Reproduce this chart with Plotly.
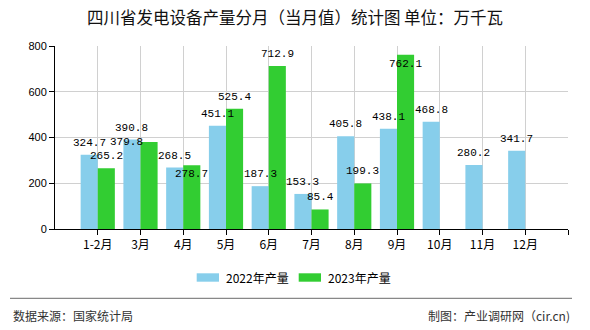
import plotly.graph_objects as go

# Monthly output of power generation equipment in Sichuan (10,000 kW)
months = ["1-2月", "3月", "4月", "5月", "6月", "7月", "8月", "9月", "10月", "11月", "12月"]
output_2022 = [324.7, 390.8, 268.5, 451.1, 187.3, 153.3, 405.8, 438.1, 468.8, 280.2, 341.7]
output_2023 = [265.2, 379.8, 278.7, 525.4, 712.9, 85.4, 199.3, 762.1, None, None, None]
series_names = ["2022年产量", "2023年产量"]
y_ticks = [0, 200, 400, 600, 800]

BLUE = "#87CEEB"
GREEN = "#32CD32"
CJK = "Noto Sans CJK SC"
MONO = "Liberation Mono"

# plot area in pixels (used to place paper-referenced decorations)
W, H = 590, 330
L, R, T, B = 55, 22, 46, 101
PW, PH = W - L - R, H - T - B


def px(x):
    return (x - L) / PW


def py(y):
    return (H - B - y) / PH


xs = list(range(len(months)))

fig = go.Figure()
fig.add_trace(go.Bar(x=xs, y=output_2022, name=series_names[0],
                     marker=dict(color=BLUE, line=dict(width=0))))
fig.add_trace(go.Bar(x=xs, y=output_2023, name=series_names[1],
                     marker=dict(color=GREEN, line=dict(width=0))))

# value labels above each bar; a few are nudged to avoid collisions
label_nudge = {(1, 1): (-23, 0), (1, 2): (0, -9), (1, 7): (0, -9)}
annotations = []
for s, (vals, dx) in enumerate([(output_2022, -0.2), (output_2023, 0.2)]):
    for i, v in enumerate(vals):
        if v is None:
            continue
        xshift, yshift = label_nudge.get((s, i), (0, 12))
        annotations.append(dict(
            x=i + dx, y=v, xref="x", yref="y", text=f"{v:.1f}",
            showarrow=False, xanchor="center", yanchor="middle",
            xshift=xshift, yshift=yshift,
            font=dict(family=MONO, size=11, color="#000000")))

# custom legend
shapes = []
legend_items = [(196.7, BLUE, series_names[0]), (298.7, GREEN, series_names[1])]
for x0, col, name in legend_items:
    shapes.append(dict(type="rect", xref="paper", yref="paper",
                       x0=px(x0), x1=px(x0 + 22.3), y0=py(281.7), y1=py(273.3),
                       fillcolor=col, line=dict(width=0)))
    annotations.append(dict(x=px(x0 + 27), y=py(277.5), xref="paper", yref="paper",
                            text=name, showarrow=False, xanchor="left", yanchor="middle",
                            font=dict(family=CJK, size=12, color="#000000")))

# footer separator and source notes
shapes.append(dict(type="line", xref="paper", yref="paper",
                   x0=px(10), x1=px(572), y0=py(298.3), y1=py(298.3),
                   line=dict(color="#888888", width=1.2)))
annotations.append(dict(x=px(11), y=py(315), xref="paper", yref="paper",
                        text="数据来源：国家统计局", showarrow=False,
                        xanchor="left", yanchor="middle",
                        font=dict(family=CJK, size=12, color="#333333")))
annotations.append(dict(x=px(572), y=py(315), xref="paper", yref="paper",
                        text="制图：产业调研网（cir.cn)", showarrow=False,
                        xanchor="right", yanchor="middle",
                        font=dict(family=CJK, size=12, color="#333333")))

fig.update_layout(
    width=W, height=H,
    margin=dict(l=L, r=R, t=T, b=B, pad=0),
    paper_bgcolor="white", plot_bgcolor="white",
    barmode="group", bargap=0.2, bargroupgap=0,
    showlegend=False,
    title=dict(text="四川省发电设备产量分月（当月值）统计图 单位：万千瓦",
               x=0.5, xanchor="center", y=1 - 18 / H, yanchor="middle",
               font=dict(family=CJK, size=16.5, color="#111111")),
    xaxis=dict(range=[-1, 11], tickvals=xs + [11], ticktext=months + [""],
               showgrid=True, gridcolor="#d0d0d0", gridwidth=1,
               showline=True, linecolor="#000000", linewidth=1,
               ticks="outside", ticklen=5, tickcolor="#000000",
               tickfont=dict(family=CJK, size=12, color="#000000"),
               zeroline=False, fixedrange=True),
    yaxis=dict(range=[0, 800], tickvals=y_ticks,
               showgrid=True, gridcolor="#d0d0d0", gridwidth=1,
               showline=True, linecolor="#000000", linewidth=1,
               ticks="outside", ticklen=5, tickcolor="#000000",
               tickfont=dict(family="Liberation Sans", size=11, color="#000000"),
               zeroline=False, fixedrange=True),
    annotations=annotations,
    shapes=shapes,
)

fig.write_html("out.html")
